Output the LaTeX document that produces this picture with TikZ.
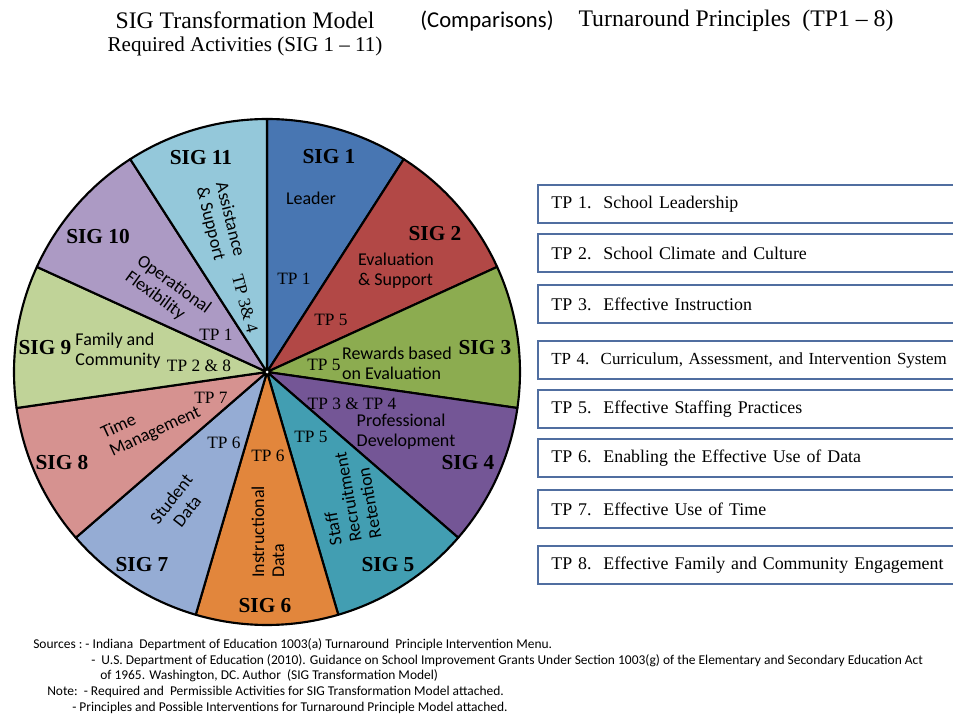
\documentclass[tikz,border=0pt]{standalone}
\usepackage{fontspec}
\setmainfont{Liberation Serif}
\setsansfont{Carlito}
\def\pieradius{253}
\def\slicesep{32.72727}
\definecolor{sigA}{RGB}{72,118,178}
\definecolor{sigB}{RGB}{178,72,70}
\definecolor{sigC}{RGB}{140,172,80}
\definecolor{sigD}{RGB}{116,86,150}
\definecolor{sigE}{RGB}{66,158,178}
\definecolor{sigF}{RGB}{226,134,60}
\definecolor{sigG}{RGB}{149,172,212}
\definecolor{sigH}{RGB}{214,146,144}
\definecolor{sigI}{RGB}{192,211,152}
\definecolor{sigJ}{RGB}{172,154,196}
\definecolor{sigK}{RGB}{148,200,218}
\definecolor{boxblue}{RGB}{80,110,160}

\begin{document}
\begin{tikzpicture}[x=0.75pt,y=-0.75pt]
            \tikzstyle{slice}=[draw=black,line width=1.6pt,line join=round]
            \tikzstyle{sig}=[font=\fontsize{16}{19}\selectfont\bfseries,inner sep=0pt]
            \tikzstyle{act}=[font=\sffamily\fontsize{13.5}{15}\selectfont,inner sep=0pt]
            \tikzstyle{tp}=[font=\fontsize{13}{15}\selectfont,inner sep=0pt]
            \tikzstyle{tpbox}=[draw=boxblue,line width=1.5pt,anchor=west,minimum height=29pt,text width=320pt,inner xsep=10pt,align=left]
            \tikzstyle{foot}=[font=\sffamily\fontsize{10.1}{12}\selectfont,inner sep=0pt,anchor=west]

            \useasboundingbox (0,0) rectangle (953,717);
            \clip (0,0) rectangle (953,717);
            \coordinate (C) at (267,372);

            % Draw the slices, clockwise from the top
            \foreach \name/\col in {1/sigA,2/sigB,3/sigC,4/sigD,5/sigE,6/sigF,7/sigG,8/sigH,9/sigI,10/sigJ,11/sigK}
                \filldraw[slice,fill=\col] (C) -- ++({-90+(\name-1)*\slicesep}:\pieradius)
                    arc[start angle={-90+(\name-1)*\slicesep},delta angle=\slicesep,radius=\pieradius] -- cycle;
            \fill[white] (C) circle (1.5);

            % Title lines
            \path node[font=\fontsize{17.8}{21}\selectfont] (TITLE-L) at (245,20) {SIG Transformation Model};
            \path node[font=\sffamily\fontsize{17}{21}\selectfont] (TITLE-M) at (487,21) {(Comparisons)};
            \path node[font=\fontsize{17.8}{21}\selectfont] (TITLE-R) at (736,21) {Turnaround Principles\ \ (TP1 -- 8)};
            \path node[font=\fontsize{15.8}{19}\selectfont] (SUBTITLE) at (245,46) {Required Activities (SIG 1 -- 11)};

            % Label the slices
            \foreach \name/\x/\y in {1/329/157,2/435/234,3/485/348,4/468/463,5/388/565,6/265/606,7/142/565,8/62/463,9/45/348,10/98/237,11/201/158}
                \path node[sig] (SIG-\name) at (\x,\y) {SIG \name};

            \foreach \name/\x/\y/\r/\al/\txt in {1/311/198/0/left/{Leader},
                    2/396/271/0/left/{Evaluation\\\& Support},
                    3/397/363/0/left/{Rewards based\\on Evaluation},
                    4/406/432/0/left/{Professional\\Development},
                    5/348/497/100/left/{Staff\\Recruitment\\Retention},
                    6/268/532/90/left/{Instructional\\Data},
                    7/179/505/52/center/{Student\\Data},
                    8/151/423/25/left/{Time\\Management},
                    9/118/351/0/left/{Family and\\Community},
                    10/168/293/-36/left/{Operational\\Flexibility},
                    11/220/222/-76/left/{Assistance\\\& Support}}
                \path node[act,rotate=\r,align=\al] (ACT-\name) at (\x,\y) {\txt};

            \foreach \name/\x/\y/\r/\txt in {1/294/279/0/{TP 1},2/331/320/0/{TP 5},3/324/365/0/{TP 5},
                    4/352/404/0/{TP 3 \& TP 4},5/311/437/0/{TP 5},6/268/456/0/{TP 6},7/224/443/0/{TP 6},
                    8/211/398/0/{TP 7},9/199/366/0/{TP 2 \& 8},10/216/335/0/{TP 1},11/245/304/-75/{TP 3\& 4}}
                \path node[tp,rotate=\r] (TPL-\name) at (\x,\y) {\txt};

            % Turnaround principle boxes
            \foreach \name/\y/\sz/\txt in {1/204/13.4/{School Leadership},2/253/13.4/{School Climate and Culture},
                    3/304/13.4/{Effective Instruction},4/360/12.7/{Curriculum, Assessment, and Intervention System},
                    5/409/13.4/{Effective Staffing Practices},6/458/13.4/{Enabling the Effective Use of Data},
                    7/509/13.4/{Effective Use of Time},8/565/13.4/{Effective Family and Community Engagement}}
                \path node[tpbox,font=\fontsize{\sz}{16}\selectfont] (TP-\name) at (537,\y) {TP \name.\ \ \txt};

            % Sources and notes
            \path node[foot] (SRC-1) at (33,645) {Sources :\ - Indiana\ \ Department of Education 1003(a) Turnaround\ \ Principle Intervention Menu.};
            \path node[foot] (SRC-2) at (91,661) {-\ \ U.S. Department of Education (2010). Guidance on School Improvement Grants Under Section 1003(g) of the Elementary and Secondary Education Act};
            \path node[foot] (SRC-3) at (100,676) {of 1965. Washington, DC. Author\ \ (SIG Transformation Model)};
            \path node[foot] (NOTE-1) at (47,692) {Note:\ \ - Required and\ \ Permissible Activities for SIG Transformation Model attached.};
            \path node[foot] (NOTE-2) at (72,708) {- Principles and Possible Interventions for Turnaround Principle Model attached.};
        \end{tikzpicture}
\end{document}
